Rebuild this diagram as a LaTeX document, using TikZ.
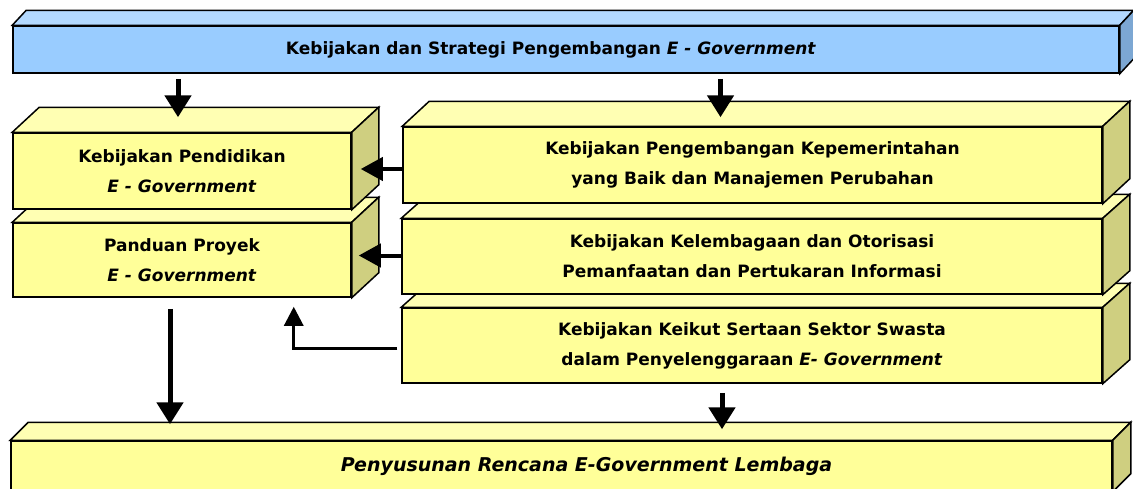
\documentclass[tikz,border=0pt]{standalone}
\usepackage{fontspec}
\setmainfont{DejaVu Sans}
\usetikzlibrary{arrows.meta,calc}

\definecolor{bluefront}{HTML}{99CCFF}
\definecolor{bluetop}{HTML}{B3D9FF}
\definecolor{blueside}{HTML}{7CA7D3}
\definecolor{yelfront}{HTML}{FFFF99}
\definecolor{yeltop}{HTML}{FFFFB3}
\definecolor{yelside}{HTML}{CFCF80}

% top and side faces of a slab: node, dx, dy, top colour, side colour
\newcommand{\slabfaces}[5]{%
  \filldraw[fill=#4] (#1.north west) -- ++(#2,-#3) -- ($(#1.north east)+(#2,-#3)$) -- (#1.north east) -- cycle;
  \filldraw[fill=#5] (#1.north east) -- ($(#1.north east)+(#2,-#3)$) -- ($(#1.south east)+(#2,-#3)$) -- (#1.south east) -- cycle;
}

\begin{document}
\begin{tikzpicture}[x=1pt, y=-1pt, line width=1.5pt,
    slab/.style={draw, fill=yelfront, inner sep=0pt, align=center,
      font=\bfseries\fontsize{17}{30}\selectfont},
    bigarrow/.style={line width=5pt, -{Triangle[length=22pt,width=26pt]}},
    midarrow/.style={line width=4pt, -{Triangle[length=22pt,width=23pt]}},
    thinarrow/.style={line width=3pt, -{Triangle[length=19pt,width=19pt]}}]
    \useasboundingbox (0,0) rectangle (1133,488);
    \clip (0,0) rectangle (1133,488);

    % bottom row
    \node[slab, minimum width=1101pt, minimum height=50pt, font=\bfseries\fontsize{19}{30}\selectfont] (plan) at (561.5,466)
      {\hspace*{50pt}\textit{Penyusunan Rencana E-Government Lembaga}};
    \slabfaces{plan}{18}{18}{yeltop}{yelside}

    % right column, lowest first
    \node[slab, minimum width=700pt, minimum height=75pt] (swasta) at (752,345.5)
      {Kebijakan Keikut Sertaan Sektor Swasta\\dalam Penyelenggaraan \textit{E- Government}};
    \slabfaces{swasta}{27}{24}{yeltop}{yelside}
    \node[slab, minimum width=700pt, minimum height=75pt] (lembaga) at (752,256.5)
      {Kebijakan Kelembagaan dan Otorisasi\\Pemanfaatan dan Pertukaran Informasi};
    \slabfaces{lembaga}{27}{24}{yeltop}{yelside}
    \node[slab, minimum width=699pt, minimum height=76pt] (tatakelola) at (752.5,165)
      {Kebijakan Pengembangan Kepemerintahan\\yang Baik dan Manajemen Perubahan};
    \slabfaces{tatakelola}{27}{25}{yeltop}{yelside}

    % left column
    \node[slab, minimum width=338pt, minimum height=74pt] (panduan) at (182,260)
      {Panduan Proyek\\\textit{E - Government}};
    \slabfaces{panduan}{27}{25}{yeltop}{yelside}
    \node[slab, minimum width=338pt, minimum height=76pt] (didik) at (182,171)
      {Kebijakan Pendidikan\\\textit{E - Government}};
    \slabfaces{didik}{27}{25}{yeltop}{yelside}

    % top row
    \node[slab, fill=bluefront, minimum width=1106pt, minimum height=47pt] (strategi) at (566,49.5)
      {Kebijakan dan Strategi Pengembangan \textit{E - Government}\hspace*{30pt}};
    \slabfaces{strategi}{14}{15}{bluetop}{blueside}

    % arrows
    \draw[bigarrow] ($(strategi.south -| didik.north)+(-4,5)$) -- ($(didik.north)+(-4,-15)$);
    \draw[bigarrow] ($(strategi.south -| tatakelola.north)+(-32,5)$) -- ($(tatakelola.north)+(-32,-9)$);
    \draw[midarrow] ($(tatakelola.west)+(0,4)$) -- ($(tatakelola.west -| didik.east)+(9,4)$);
    \draw[midarrow] ($(lembaga.west)+(0,-1)$) -- ($(lembaga.west -| panduan.east)+(7,-1)$);
    \draw[thinarrow] ($(swasta.west)+(-4,3)$) -| ($(panduan.south east)+(-58,9)$);
    \draw[bigarrow] ($(panduan.south)+(-12,11)$) -- ($(panduan.south |- plan.north)+(-12,-16)$);
    \draw[bigarrow] ($(swasta.south)+(-30,9)$) -- ($(swasta.south |- plan.north)+(-30,-11)$);
\end{tikzpicture}
\end{document}
